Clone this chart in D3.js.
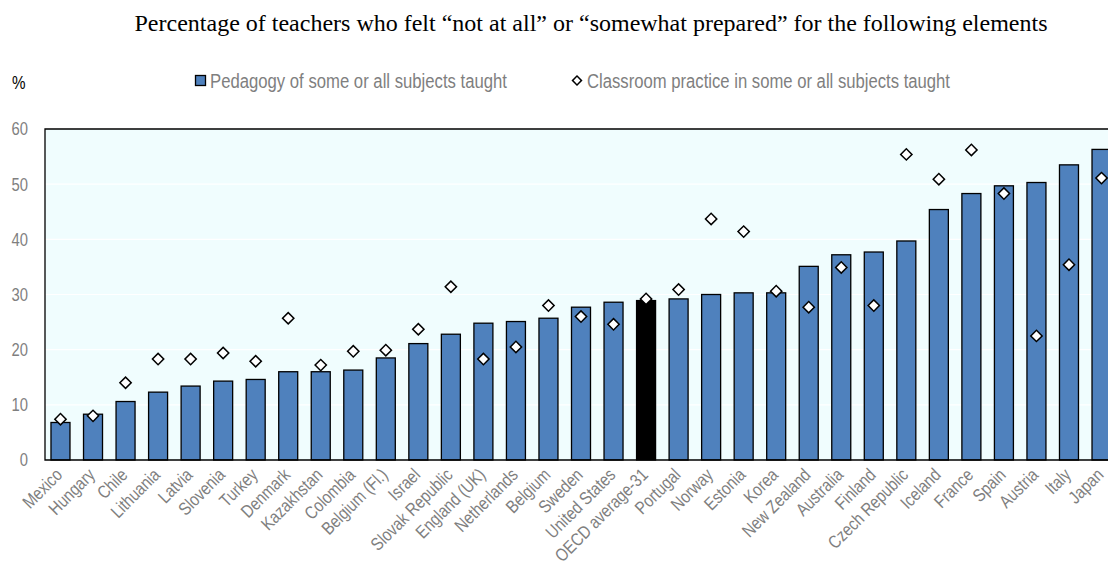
<!DOCTYPE html>
<html>
<head>
<meta charset="utf-8">
<script src="https://cdn.jsdelivr.net/npm/d3@7/dist/d3.min.js"></script>
<style>
  html, body { margin: 0; padding: 0; background: #ffffff; }
  svg { display: block; }
  .sans { font-family: "Liberation Sans", Arial, sans-serif; }
</style>
</head>
<body>
<svg id="chart" width="1108" height="566"></svg>
<script>
// Countries, sorted by the pedagogy share
const categories = [
  "Mexico", "Hungary", "Chile", "Lithuania", "Latvia", "Slovenia", "Turkey",
  "Denmark", "Kazakhstan", "Colombia", "Belgium (Fl.)", "Israel",
  "Slovak Republic", "England (UK)", "Netherlands", "Belgium", "Sweden",
  "United States", "OECD average-31", "Portugal", "Norway", "Estonia", "Korea",
  "New Zealand", "Australia", "Finland", "Czech Republic", "Iceland", "France",
  "Spain", "Austria", "Italy", "Japan"
];

// Pedagogy of some or all subjects taught (%)
const pedagogy = [
  6.8, 8.3, 10.6, 12.3, 13.4, 14.3, 14.6,
  16.0, 16.0, 16.3, 18.5, 21.1,
  22.8, 24.8, 25.1, 25.7, 27.7,
  28.6, 28.9, 29.2, 30.0, 30.3, 30.3,
  35.1, 37.2, 37.7, 39.7, 45.4, 48.3,
  49.7, 50.3, 53.5, 56.3
];

// Classroom practice in some or all subjects taught (%)
const practice = [
  7.4, 8.0, 14.0, 18.3, 18.3, 19.4, 17.9,
  25.7, 17.2, 19.7, 19.9, 23.7,
  31.4, 18.3, 20.5, 28.0, 26.0,
  24.6, 29.2, 30.9, 43.7, 41.4, 30.6,
  27.7, 34.9, 28.0, 55.4, 50.9, 56.2,
  48.3, 22.5, 35.4, 51.1
];

const yTicks = [0, 10, 20, 30, 40, 50, 60];

const titleText = "Percentage of teachers who felt \u201cnot at all\u201d or \u201csomewhat prepared\u201d for the following elements";
const legendBar = "Pedagogy of some or all subjects taught";
const legendDot = "Classroom practice in some or all subjects taught";
const highlight = "OECD average-31";

const svg = d3.select("#chart");

const plot = { left: 45, top: 129, bottom: 460, right: 1117 };

const x = d3.scaleBand()
  .domain(categories)
  .range([plot.left, plot.right])
  .paddingInner(0.416)
  .paddingOuter(0.184);

const y = d3.scaleLinear()
  .domain([0, 60])
  .range([plot.bottom, plot.top]);

const barColor = "#4f81bd";
const textGray = "#7f7f7f";

// Squeeze a sans text horizontally to get a narrow face
function narrow(sel, factor) {
  sel.each(function () {
    const len = this.getComputedTextLength();
    d3.select(this)
      .attr("textLength", len * factor)
      .attr("lengthAdjust", "spacingAndGlyphs");
  });
}

// Title
svg.append("text")
  .attr("x", 591)
  .attr("y", 31)
  .attr("text-anchor", "middle")
  .style("font-family", "'Liberation Serif', 'Times New Roman', serif")
  .style("font-size", "24px")
  .attr("fill", "#000")
  .text(titleText);

// Unit label
svg.append("text")
  .attr("class", "sans")
  .attr("x", 12)
  .attr("y", 89)
  .style("font-size", "19px")
  .attr("fill", "#000")
  .text("%")
  .call(narrow, 0.8);

// Legend
const lg = svg.append("g").attr("class", "sans");
lg.append("rect")
  .attr("x", 195.5).attr("y", 75.5)
  .attr("width", 10).attr("height", 10)
  .attr("fill", barColor).attr("stroke", "#000").attr("stroke-width", 1.3);
lg.append("text")
  .attr("x", 210).attr("y", 87.5)
  .style("font-size", "19.5px")
  .attr("fill", textGray)
  .attr("textLength", 297)
  .attr("lengthAdjust", "spacingAndGlyphs")
  .text(legendBar);
lg.append("path")
  .attr("d", d3.symbol().type(d3.symbolSquare).size(40)())
  .attr("transform", "translate(577,80.5) rotate(45)")
  .attr("fill", "#fff").attr("stroke", "#000").attr("stroke-width", 1.5);
lg.append("text")
  .attr("x", 587).attr("y", 87.5)
  .style("font-size", "19.5px")
  .attr("fill", textGray)
  .attr("textLength", 363)
  .attr("lengthAdjust", "spacingAndGlyphs")
  .text(legendDot);

// Plot background
svg.append("rect")
  .attr("x", plot.left).attr("y", plot.top)
  .attr("width", plot.right - plot.left + 20)
  .attr("height", plot.bottom - plot.top)
  .attr("fill", "#f0fdfe");

// Gridlines
svg.append("g")
  .selectAll("line")
  .data(yTicks.filter(d => d > 0 && d < 60))
  .join("line")
  .attr("x1", plot.left).attr("x2", 1108)
  .attr("y1", d => y(d)).attr("y2", d => y(d))
  .attr("stroke", "#ffffff").attr("stroke-width", 1.2);

// Bars
svg.append("g")
  .selectAll("rect")
  .data(categories.map((c, i) => ({ c, v: pedagogy[i] })))
  .join("rect")
  .attr("x", d => x(d.c))
  .attr("y", d => y(d.v))
  .attr("width", x.bandwidth())
  .attr("height", d => y(0) - y(d.v))
  .attr("fill", d => d.c === highlight ? "#000000" : barColor)
  .attr("stroke", "#000")
  .attr("stroke-width", 1.3);

// Frame: top, left and baseline
svg.append("path")
  .attr("d", `M1108,${plot.top}H${plot.left}V${plot.bottom}H1108`)
  .attr("fill", "none").attr("stroke", "#000").attr("stroke-width", 1.3);

// Diamonds
svg.append("g")
  .selectAll("path")
  .data(categories.map((c, i) => ({ c, v: practice[i] })))
  .join("path")
  .attr("d", d3.symbol().type(d3.symbolSquare).size(64)())
  .attr("transform", d => `translate(${x(d.c) + x.bandwidth() / 2},${y(d.v)}) rotate(45)`)
  .attr("fill", "#fff").attr("stroke", "#000").attr("stroke-width", 1.5);

// Y axis
const yAxis = svg.append("g")
  .attr("class", "sans")
  .attr("transform", `translate(${plot.left},0)`)
  .call(d3.axisLeft(y).tickValues(yTicks).tickSize(0).tickPadding(17));
yAxis.select(".domain").remove();
yAxis.selectAll("text")
  .style("font-size", "18.5px")
  .attr("fill", textGray)
  .call(narrow, 0.8);

// X axis
const xAxis = svg.append("g")
  .attr("class", "sans")
  .attr("transform", `translate(0,${plot.bottom})`)
  .call(d3.axisBottom(x).tickSize(0).tickPadding(0));
xAxis.select(".domain").remove();
xAxis.selectAll("text")
  .attr("text-anchor", "end")
  .attr("dy", null)
  .attr("y", 0)
  .attr("transform", "translate(3,16) rotate(-45)")
  .style("font-size", "18px")
  .attr("fill", textGray)
  .call(narrow, 0.83);
</script>
</body>
</html>
